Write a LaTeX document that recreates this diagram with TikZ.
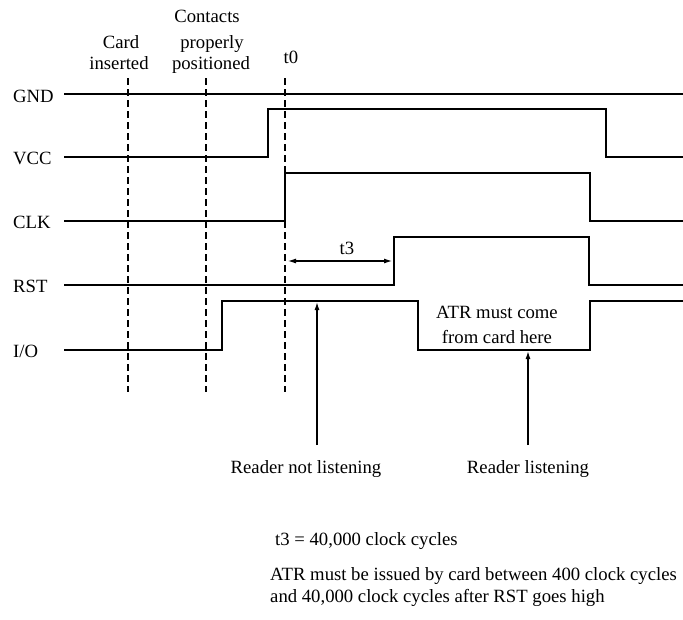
\documentclass[tikz,border=0pt]{standalone}
\usepackage{fontspec}
\setmainfont{Liberation Serif}
\usetikzlibrary{arrows.meta,positioning}

\begin{document}
\begin{tikzpicture}[x=1pt,y=-1pt,
every node/.style={font=\fontsize{18.7}{22}\selectfont, inner sep=0pt},
sig/.style={line width=1.6pt},
marker/.style={line width=1.3pt, dash pattern=on 7pt off 4pt},
pointer/.style={line width=1.4pt, -{Latex[length=8pt,width=5pt]}},
span/.style={line width=1.1pt, {Latex[length=8pt,width=5pt]}-{Latex[length=8pt,width=5pt]}}]
\useasboundingbox (0,0) rectangle (683,619);
% signal names
\node[anchor=west] (GND) at (13,96) {GND};
\node[anchor=west] (VCC) at (13,158) {VCC};
\node[anchor=west] (CLK) at (13,222) {CLK};
\node[anchor=west] (RST) at (13,286) {RST};
\node[anchor=west] (IO) at (13,351) {I/O};
% event labels
\node[anchor=base] (card1) at (121,48) {Card};
\node[anchor=base] (card2) at (119,69) {inserted};
\node[anchor=base] (cont1) at (207,22) {Contacts};
\node[anchor=base] (cont2) at (212,48) {properly};
\node[anchor=base] (cont3) at (211,69) {positioned};
\node[anchor=base] (tzero) at (291,63) {t0};
\foreach \x in {128,206,285}
  \draw[marker] (\x,78) -- (\x,392);
% waveforms
\draw[sig] (64,94) -- (683,94);
\draw[sig] (64,157) -| (268,109) -| (606,157) -- (683,157);
\draw[sig] (64,221) -| (285,173) -| (590,221) -- (683,221);
\draw[sig] (64,285) -| (394,237) -| (589,285) -- (683,285);
\draw[sig] (64,350) -| (222,301) -| (418,350) -| (590,301) -- (683,301);
% t3
\coordinate (t3l) at (288,261);
\coordinate (t3r) at (392,261);
\draw[span] (t3l) -- (t3r);
\node[anchor=base] (tthree) at (347,254) {t3};
\node[anchor=base, align=center] (atr) at (497,343) {ATR must come\\[3pt]from card here};
% reader arrows
\coordinate (footA) at (317,445);
\coordinate (tipA) at (317,302);
\coordinate (footB) at (528,445);
\coordinate (tipB) at (528,351);
\draw[pointer] (footA) -- (tipA);
\draw[pointer] (footB) -- (tipB);
\node[anchor=base] (notlisten) at (306,473) {Reader not listening};
\node[anchor=base] (listen) at (528,473) {Reader listening};
% notes
\node[anchor=base west] (note1) at (275,545) {t3 = 40,000 clock cycles};
\node[anchor=base west, align=left] (note2) at (270,602) {ATR must be issued by card between 400 clock cycles\\and 40,000 clock cycles after RST goes high};
\end{tikzpicture}
\end{document}
